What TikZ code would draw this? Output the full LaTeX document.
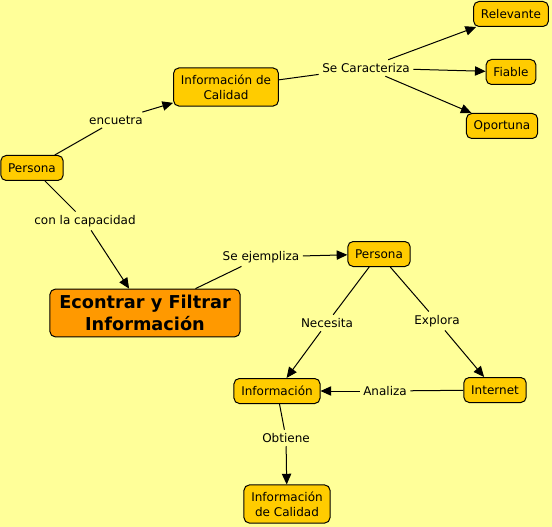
\documentclass[tikz,border=0pt]{standalone}
\usepackage{fontspec}
\setmainfont{DejaVu Sans}
\usetikzlibrary{arrows.meta}
\definecolor{bg}{RGB}{255,255,153}
\definecolor{cfill}{RGB}{255,204,0}
\definecolor{mfill}{RGB}{255,153,0}
\tikzset{
  concept/.style={draw=black, line width=0.75pt, fill=cfill, rounded corners=4pt,
    align=center, inner xsep=5.5pt, inner ysep=5pt, minimum height=18.75pt,
    font=\fontsize{9}{11.25}\selectfont},
  mainc/.style={draw=black, line width=0.75pt, fill=mfill, rounded corners=4pt,
    align=center, inner xsep=7pt, inner ysep=4.5pt,
    font=\fontsize{13.3}{16.5}\selectfont\bfseries},
  lbl/.style={inner sep=2.5pt, font=\fontsize{9}{11.25}\selectfont},
  link/.style={line width=0.75pt},
  arr/.style={line width=0.75pt, -{Triangle[length=8pt,width=7pt]}}
}
\begin{document}
\begin{tikzpicture}[x=0.75pt,y=-0.75pt]
\fill[bg] (0,0) rectangle (552,527);
\useasboundingbox (0,0) rectangle (552,527);

\node[concept] (p1) at (32,168) {Persona};
\node[concept] (ic1) at (226,87) {Información de\\Calidad};
\node[concept] (rel) at (511,14) {Relevante};
\node[concept] (fia) at (511,72) {Fiable};
\node[concept] (opo) at (502,126) {Oportuna};
\node[mainc] (main) at (145,313) {Econtrar y Filtrar\\Información};
\node[concept] (p2) at (379,254) {Persona};
\node[concept] (inf) at (277,391) {Información};
\node[concept] (int) at (495,390) {Internet};
\node[concept] (ic2) at (287,504) {Información\\de Calidad};

\node[lbl] (enc) at (116,120) {encuetra};
\node[lbl] (sec) at (366,68) {Se Caracteriza};
\node[lbl] (con) at (85,221) {con la capacidad};
\node[lbl] (sej) at (261,257) {Se ejempliza};
\node[lbl] (nec) at (327,323) {Necesita};
\node[lbl] (exp) at (437,321) {Explora};
\node[lbl] (ana) at (385,391) {Analiza};
\node[lbl] (obt) at (286,438) {Obtiene};

\draw[link] (p1) -- (enc); \draw[arr] (enc) -- (ic1);
\draw[link] (ic1) -- (sec);
\draw[arr] (sec) -- (rel);
\draw[arr] (sec) -- (fia);
\draw[arr] (sec) -- (opo);
\draw[link] (p1) -- (con); \draw[arr] (con) -- (main);
\draw[link] (main) -- (sej); \draw[arr] (sej) -- (p2);
\draw[link] (p2) -- (nec); \draw[arr] (nec) -- (inf);
\draw[link] (p2) -- (exp); \draw[arr] (exp) -- (int);
\draw[link] (int) -- (ana); \draw[arr] (ana) -- (inf);
\draw[link] (inf) -- (obt); \draw[arr] (obt) -- (ic2);
\end{tikzpicture}
\end{document}
